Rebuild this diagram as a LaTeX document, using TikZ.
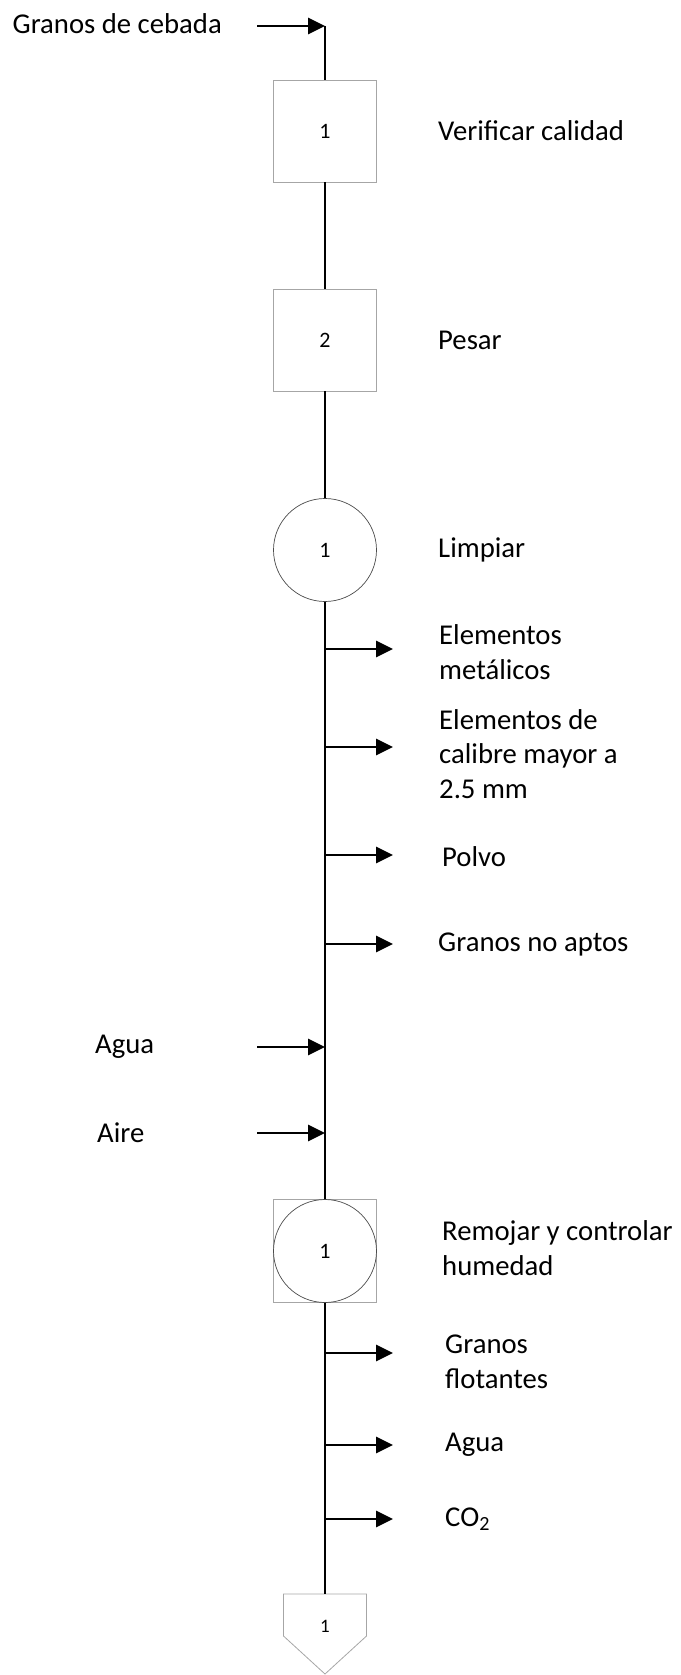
\documentclass[tikz,border=0pt]{standalone}
\usepackage{fontspec}
\setmainfont{Carlito}
\usetikzlibrary{arrows.meta}
\tikzset{
	flujo/.style={line width=2.9pt},
	sale/.style={line width=2.9pt,-{Triangle[length=17pt,width=16pt]}},
	caja/.style={draw=gray!70,line width=0.8pt,minimum width=103pt,minimum height=102pt,inner sep=0pt,font=\fontsize{22}{26}\selectfont},
	circulo/.style={circle,draw=black!70,line width=0.7pt,minimum size=103pt,inner sep=0pt,font=\fontsize{22}{26}\selectfont},
	etiqueta/.style={anchor=west,inner sep=0pt,align=left,font=\fontsize{28.7}{34.5}\selectfont}
}
\begin{document}
\begin{tikzpicture}[x=1pt,y=-1pt]
			\useasboundingbox (0,0) rectangle (680,1675);
			\node[etiqueta,anchor=east] (granos) at (222,24) {Granos de cebada};
			\coordinate (ent) at (257,26);
			\coordinate (arriba) at (325,26);
			\node[caja] (verif) at (325,131) {1};
			\node[caja] (pesar) at (325,340) {2};
			\node[circulo] (limp) at (325,550) {1};
			\node[caja,minimum height=103pt] (remo) at (325,1251) {};
			\node[circulo] (remoc) at (325,1251) {1};
			\coordinate (alm) at (325,1594);
			\draw[draw=gray!70,line width=0.8pt] (283.5,1594) -- (366.5,1594) -- (366.5,1636) -- (325,1674) -- (283.5,1636) -- cycle;
			\node[inner sep=0pt,font=\fontsize{19}{22}\selectfont] (almn) at (325,1626) {1};
			\node[etiqueta] (tverif) at (438,131) {Verificar calidad};
			\node[etiqueta] (tpesar) at (438,340) {Pesar};
			\node[etiqueta] (tlimp) at (438,550) {Limpiar};
			\node[etiqueta] (tmet) at (439,652) {Elementos\\metálicos};
			\node[etiqueta] (tcal) at (439,754) {Elementos de\\calibre mayor a\\2.5 mm};
			\node[etiqueta] (tpol) at (442,857) {Polvo};
			\node[etiqueta] (tnoap) at (438,944) {Granos no aptos};
			\node[etiqueta] (tagua) at (95,1047) {Agua};
			\node[etiqueta] (taire) at (97,1133) {Aire};
			\node[etiqueta] (tremo) at (442,1248) {Remojar y controlar\\humedad};
			\node[etiqueta] (tflot) at (445,1362) {Granos\\flotantes};
			\node[etiqueta] (tagua2) at (445,1445) {Agua};
			\node[etiqueta] (tco) at (445,1519) {CO\textsubscript{2}};
			\draw[sale] (ent) -- (arriba);
			\draw[flujo] (arriba) -- (verif);
			\draw[flujo] (verif) -- (pesar);
			\draw[flujo] (pesar) -- (limp);
			\draw[flujo] (limp) -- (remo);
			\draw[flujo] (remo) -- (alm);
			\foreach \n/\y in {met/649,cal/747,pol/855,noap/944,flot/1353,agua2/1445,co/1519}{
				\coordinate (s\n) at (325,\y);
				\coordinate (f\n) at (393,\y);
				\draw[sale] (s\n) -- (f\n);
			}
			\foreach \n/\y in {agua/1047,aire/1133}{
				\coordinate (e\n) at (257,\y);
				\coordinate (l\n) at (325,\y);
				\draw[sale] (e\n) -- (l\n);
			}
		\end{tikzpicture}
\end{document}
